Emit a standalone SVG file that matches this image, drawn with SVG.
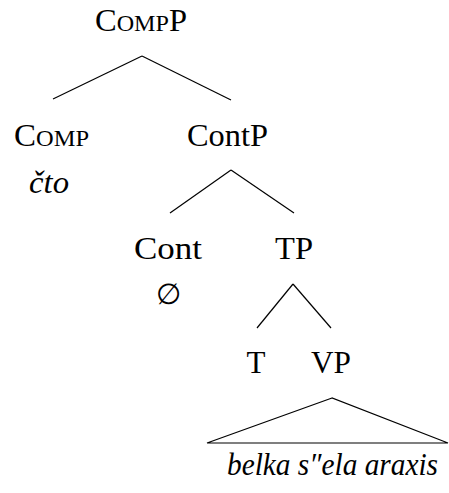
<svg xmlns="http://www.w3.org/2000/svg" width="449" height="493" viewBox="0 0 449 493">
<style>
.lbl{font-family:"Liberation Serif","Times New Roman",serif;font-size:31px;fill:#000;text-anchor:middle}
.it{font-style:italic}
.sc{font-size:23px}
.edge{stroke:#000;stroke-width:1.2;fill:none}
</style>
<rect width="449" height="493" fill="#fff"/>
<g id="connectors">
<line class="edge" x1="142" y1="56" x2="53" y2="99"/>
<line class="edge" x1="142" y1="56" x2="231" y2="100"/>
<line class="edge" x1="231" y1="170" x2="170" y2="213"/>
<line class="edge" x1="231" y1="170" x2="294" y2="213"/>
<line class="edge" x1="293" y1="284" x2="257" y2="328"/>
<line class="edge" x1="293" y1="284" x2="331" y2="328"/>
<polygon class="edge" points="332,398 207,443 448,443"/>
</g>
<g id="node-CompP"><text class="lbl" x="141" y="31" textLength="92" lengthAdjust="spacingAndGlyphs">C<tspan class="sc">OMP</tspan>P</text></g>
<g id="node-Comp"><text class="lbl" x="51.5" y="146" textLength="75" lengthAdjust="spacingAndGlyphs">C<tspan class="sc">OMP</tspan></text>
<text class="lbl it" x="49" y="193" textLength="40" lengthAdjust="spacingAndGlyphs">čto</text></g>
<g id="node-ContP"><text class="lbl" x="227.5" y="146" textLength="81" lengthAdjust="spacingAndGlyphs">ContP</text></g>
<g id="node-Cont"><text class="lbl" x="168" y="259" textLength="68" lengthAdjust="spacingAndGlyphs">Cont</text>
<text class="lbl" x="168" y="304" style="font-family:'DejaVu Serif',serif;font-size:29px">∅</text></g>
<g id="node-TP"><text class="lbl" x="294" y="259" textLength="38" lengthAdjust="spacingAndGlyphs">TP</text></g>
<g id="node-T"><text class="lbl" x="256" y="373">T</text></g>
<g id="node-VP"><text class="lbl" x="331" y="373" textLength="40" lengthAdjust="spacingAndGlyphs">VP</text></g>
<g id="node-VP-content"><text class="lbl it" x="332.5" y="475" textLength="211" lengthAdjust="spacingAndGlyphs">belka s″ela araxis</text></g>
</svg>
